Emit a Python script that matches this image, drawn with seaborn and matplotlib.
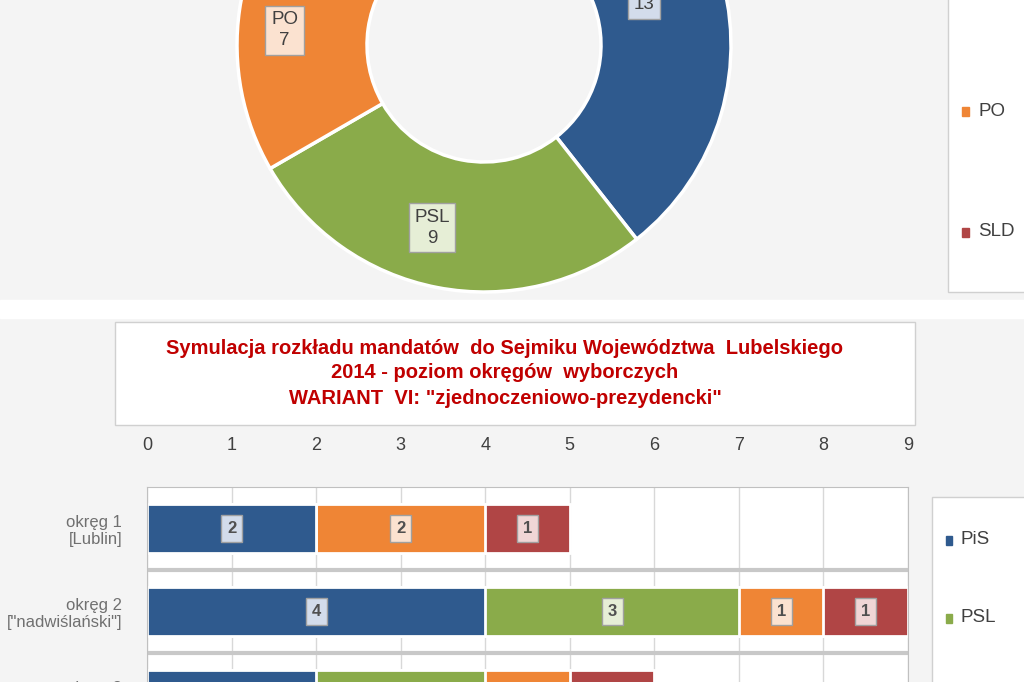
import numpy as np
import pandas as pd
import matplotlib
matplotlib.use("Agg")
import matplotlib.pyplot as plt
from matplotlib.patches import Rectangle
import seaborn as sns

plt.rcParams["font.family"] = "Liberation Sans"

parties = ["PiS", "PSL", "PO", "SLD"]
colors = ["#2f5a8e", "#8aab4a", "#ef8535", "#b04545"]
tints = ["#d3dceb", "#e6eed6", "#fbe2d0", "#f0d6d6"]
donut_values = [13, 9, 7, 4]

districts = ["okręg 1\n[Lublin]", "okręg 2\n[\"nadwiślański\"]", "okręg 3\n[\"chełmski\"]"]
pis = [2, 4, 2]
psl = [0, 3, 2]
po = [2, 1, 1]
sld = [1, 1, 1]
xticks = list(range(10))

title = ('Symulacja rozkładu mandatów  do Sejmiku Województwa  Lubelskiego\n'
         '2014 - poziom okręgów  wyborczych\n'
         'WARIANT  VI: "zjednoczeniowo-prezydencki"')

W, H = 1024, 682
fig = plt.figure(figsize=(10.24, 6.82), dpi=100, facecolor="#f4f4f4")

bg = fig.add_axes([0, 0, 1, 1])
bg.set_xlim(0, W); bg.set_ylim(0, H); bg.axis("off")
bg.add_patch(Rectangle((0, H - 318), W, 18, color="white", zorder=0))

cx, cy, R = 484, H - 45, 247
wedges, _ = bg.pie(donut_values, colors=colors, startangle=90, counterclock=False,
                   center=(cx, cy), radius=R, frame=True,
                   wedgeprops=dict(width=130, edgecolor="white", linewidth=2.5))
bg.set_xlim(0, W); bg.set_ylim(0, H); bg.set_aspect("auto"); bg.axis("off")
label_shift = [-5, -5, 4, 0]
label_r = [165, 190, 200, 190]
for w, p, v, t, sh, lr in zip(wedges, parties, donut_values, tints, label_shift, label_r):
    a = np.deg2rad((w.theta1 + w.theta2) / 2 + sh)
    x, y = cx + lr * np.cos(a), cy + lr * np.sin(a)
    txt = f"{p}\n{v}" if p in ("PSL", "PO") else f"{v}"
    bg.text(x, y, txt, ha="center", va="center", fontsize=13.5, color="#404040",
            linespacing=1.3,
            bbox=dict(boxstyle="square,pad=0.3", fc=t, ec="#a0a0a0"), zorder=5)

bg.add_patch(Rectangle((948, H - 292), 100, 300, fc="white", ec="#d0d0d0", zorder=1))
for p, c, yy in zip(parties, colors, [-130, -10, 111, 232]):
    if yy < 10:
        continue
    bg.add_patch(Rectangle((962, H - yy - 5), 7, 9, color=c, zorder=2))
    bg.text(978, H - yy, p, va="center", fontsize=13.5, color="#404040", zorder=2)

bg.add_patch(Rectangle((115, H - 425), 800, 103, fc="white", ec="#d0d0d0", zorder=1))
bg.text(505, H - 373, title, ha="center", va="center", fontsize=14.5,
        fontweight="bold", color="#c00000", linespacing=1.4, zorder=2)

bg.add_patch(Rectangle((932, H - 700), 100, 203, fc="white", ec="#d0d0d0", zorder=1))
for p, c, yy in zip(parties, colors, [540, 618, 696, 774]):
    if yy > 670:
        continue
    bg.add_patch(Rectangle((946, H - yy - 5), 6, 9, color=c, zorder=2))
    bg.text(960, H - yy, p, va="center", fontsize=13.5, color="#404040", zorder=2)

ax = fig.add_axes([147 / W, 1 - 736 / H, (908 - 147) / W, 249 / H])
ax.set_facecolor("white")
df = pd.DataFrame({"district": districts, "PiS": pis, "PSL": psl, "PO": po, "SLD": sld})
cum = df[parties].cumsum(axis=1)
for i in range(len(parties) - 1, -1, -1):
    sns.barplot(x=cum[parties[i]], y=df["district"], color=colors[i], orient="h",
                width=0.58, edgecolor="white", linewidth=2, saturation=1, ax=ax)
for r in range(len(df)):
    left = 0
    for i, p in enumerate(parties):
        v = df.loc[r, p]
        if v > 0 and r < 2:
            ax.text(left + v / 2, r, str(v), ha="center", va="center", fontsize=12,
                    fontweight="bold", color="#505050",
                    bbox=dict(boxstyle="square,pad=0.35", fc=tints[i], ec="#a0a0a0"))
        left += v
ax.set_xlim(0, 9)
ax.set_ylim(2.5, -0.5)
ax.set_xticks(xticks)
ax.xaxis.tick_top()
ax.tick_params(axis="x", length=0, pad=24, labelsize=13, labelcolor="#404040")
ax.tick_params(axis="y", length=0, pad=18, labelsize=12, labelcolor="#707070")
for lbl in ax.get_yticklabels():
    lbl.set_horizontalalignment("right")
ax.set_xlabel(""); ax.set_ylabel("")
ax.grid(axis="x", color="#d8d8d8", linewidth=1)
ax.set_axisbelow(True)
for yb in [0.5, 1.5]:
    ax.axhline(yb, color="#c8c8c8", linewidth=3)
for s in ax.spines.values():
    s.set_color("#c0c0c0")

fig.savefig("out.png", dpi=100, facecolor=fig.get_facecolor())
